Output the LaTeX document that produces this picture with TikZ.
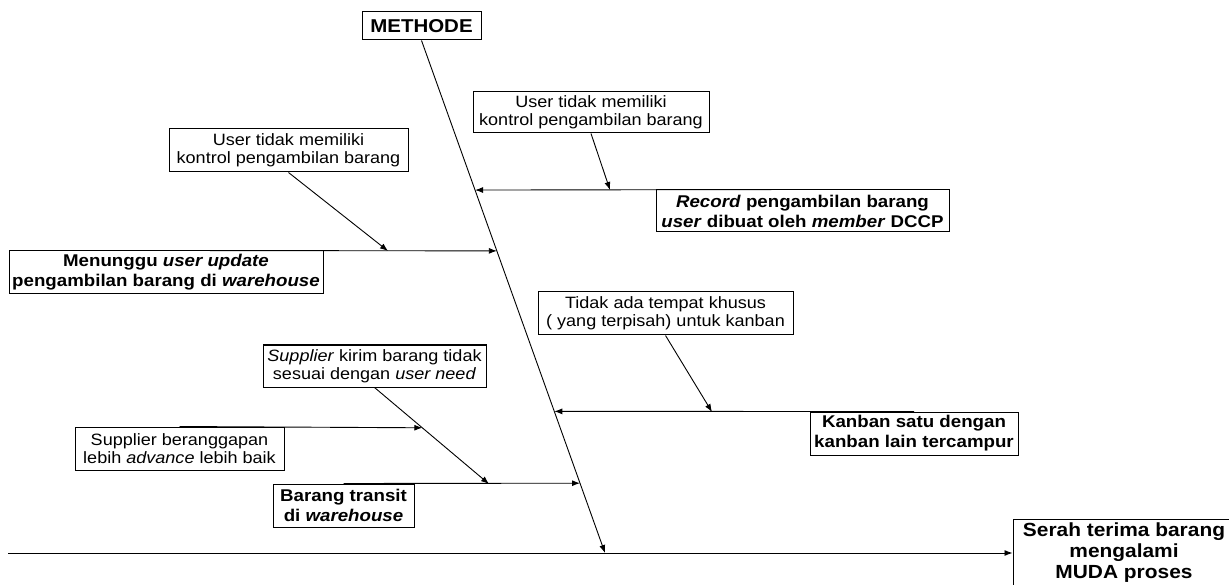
\documentclass[tikz,border=0pt]{standalone}
\usepackage{fontspec}
\setmainfont[FakeStretch=1.1]{Liberation Sans}
\usetikzlibrary{arrows.meta,calc}
\tikzset{
  box/.style={draw=black, line width=1pt, inner sep=0pt, align=center, fill=white},
  cause/.style={box, font=\fontsize{16.4}{18}\selectfont},
  bcause/.style={box, font=\fontsize{17}{20}\selectfont\bfseries},
  arr/.style={-{Latex[length=8pt,width=6pt]}, line width=0.9pt, draw=black},
  bone/.style={line width=0.9pt, draw=black}
}
\begin{document}
\begin{tikzpicture}[x=1pt,y=-1pt]
\clip (0,0) rectangle (1229,585);
\fill[white] (0,0) rectangle (1229,585);

% head / effect
\node[box, font=\fontsize{18.6}{20}\selectfont\bfseries, minimum width=119pt, minimum height=28pt] (meth) at (421.5,26) {METHODE};
\node[box, font=\fontsize{19}{21}\selectfont\bfseries, minimum width=222pt, minimum height=68pt] (eff) at (1124,553) {Serah terima barang\\mengalami\\MUDA proses};

% spine
\coordinate (spL) at (8,553);
\coordinate (mb) at (605,553);
\draw[arr] (spL) -- (eff.west);
\draw[arr] (meth.south) -- (mb);

% points on main bone
\path (meth.south) -- (mb)
  coordinate[pos=0.2918] (p1)
  coordinate[pos=0.4105] (p2)
  coordinate[pos=0.7237] (p3)
  coordinate[pos=0.8638] (p4);

% branch 1 (right, upper)
\node[bcause, minimum width=293pt, minimum height=42pt] (r1) at (802.5,211) {\textit{Record} pengambilan barang\\\textit{user} dibuat oleh \textit{member} DCCP};
\node[cause, minimum width=236pt, minimum height=41pt] (c1) at (591,112.5) {User tidak memiliki\\kontrol pengambilan barang};
\coordinate (q1) at (610,190);
\draw[arr] (r1.north) -- (p1);
\draw[arr] (c1.south) -- (q1);

% branch 2 (left, upper)
\node[bcause, minimum width=314pt, minimum height=43pt] (m2) at (166,272.5) {Menunggu \textit{user update}\\pengambilan barang di \textit{warehouse}};
\node[cause, minimum width=239pt, minimum height=43pt] (c2) at (288.5,150.5) {User tidak memiliki\\kontrol pengambilan barang};
\coordinate (q2) at (388,251);
\draw[arr] (m2.north) -- (p2);
\draw[arr] (c2.south) -- (q2);

% branch 3 (right, lower)
\node[bcause, minimum width=208pt, minimum height=43pt] (k3) at (914,433.5) {Kanban satu dengan\\kanban lain tercampur};
\node[cause, minimum width=255pt, minimum height=43pt] (c3) at (665.5,313.5) {Tidak ada tempat khusus\\( yang terpisah) untuk kanban};
\coordinate (q3) at (712,412);
\draw[arr] (k3.north) -- (p3);
\draw[arr] (c3.south) -- (q3);

% branch 4 (left, lower)
\node[bcause, minimum width=141pt, minimum height=43pt] (b4) at (343.5,505.5) {Barang transit\\di \textit{warehouse}};
\node[cause, minimum width=223pt, minimum height=42pt] (c4) at (374.5,366) {\textit{Supplier} kirim barang tidak\\sesuai dengan \textit{user need}};
\node[cause, minimum width=209pt, minimum height=43pt] (s4) at (179.5,448.5) {Supplier beranggapan\\lebih \textit{advance} lebih baik};
\coordinate (q4) at (489,484);
\path (c4.south) -- (q4) coordinate[pos=0.4175] (r4);
\draw[arr] (b4.north) -- (p4);
\draw[arr] (c4.south) -- (q4);
\draw[arr] (s4.north) -- (r4);
\end{tikzpicture}
\end{document}
